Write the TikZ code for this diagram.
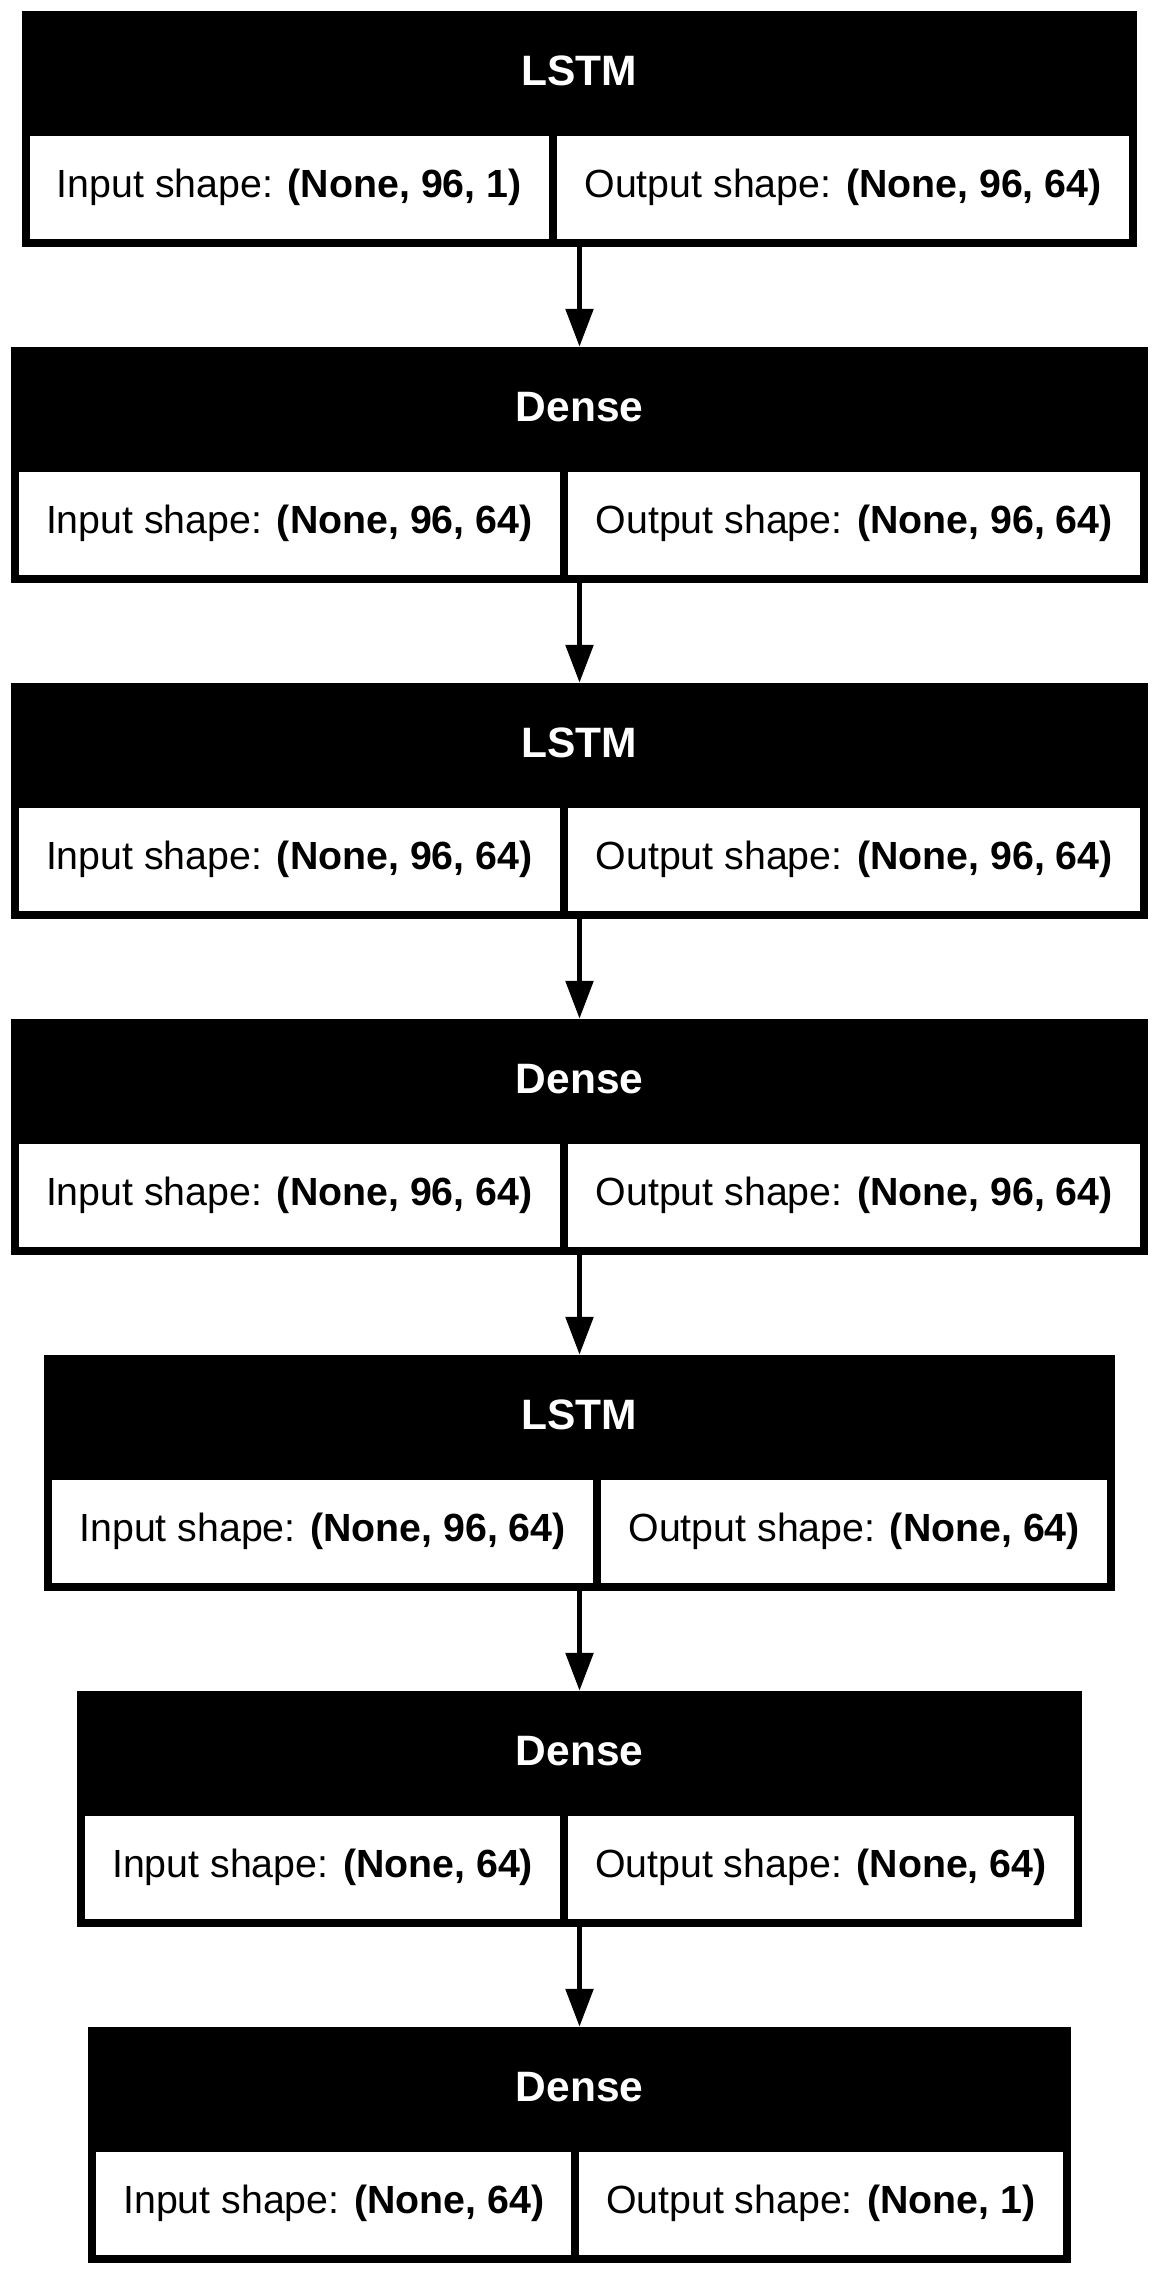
\documentclass[tikz,border=0pt]{standalone}
\usepackage{fontspec}
\setmainfont{Liberation Sans}
\usetikzlibrary{arrows.meta}

\begin{document}
\begin{tikzpicture}[x=1pt, y=-1pt,
        layer/.style = {fill=black, inner sep=0, minimum height=236pt},
        head/.style = {text=white, inner sep=0, font=\fontsize{42.5}{50}\selectfont\bfseries},
        cell/.style = {fill=white, inner sep=0, minimum height=103pt, font=\fontsize{39.3}{47}\selectfont},
        ar/.style = {line width=5.5pt, -{Triangle[length=38pt, width=27pt]}}]
        \useasboundingbox (0,0) rectangle (1158,2275);

        \node[layer, minimum width=1115.6pt] (l1) at (579.5,129) {};
        \node[head] (l1h) at (579.5,71) {LSTM};
        \node[cell, minimum width=519.1pt] (l1in) at (289.25,187.5) {Input shape: \textbf{(None, 96, 1)}};
        \node[cell, minimum width=572.5pt] (l1out) at (843.05,187.5) {Output shape: \textbf{(None, 96, 64)}};

        \node[layer, minimum width=1137.9pt] (l2) at (579.5,465) {};
        \node[head] (l2h) at (579.5,407) {Dense};
        \node[cell, minimum width=541.4pt] (l2in) at (289.25,523.5) {Input shape: \textbf{(None, 96, 64)}};
        \node[cell, minimum width=572.5pt] (l2out) at (854.2,523.5) {Output shape: \textbf{(None, 96, 64)}};

        \node[layer, minimum width=1137.9pt] (l3) at (579.5,801) {};
        \node[head] (l3h) at (579.5,743) {LSTM};
        \node[cell, minimum width=541.4pt] (l3in) at (289.25,859.5) {Input shape: \textbf{(None, 96, 64)}};
        \node[cell, minimum width=572.5pt] (l3out) at (854.2,859.5) {Output shape: \textbf{(None, 96, 64)}};

        \node[layer, minimum width=1137.9pt] (l4) at (579.5,1137) {};
        \node[head] (l4h) at (579.5,1079) {Dense};
        \node[cell, minimum width=541.4pt] (l4in) at (289.25,1195.5) {Input shape: \textbf{(None, 96, 64)}};
        \node[cell, minimum width=572.5pt] (l4out) at (854.2,1195.5) {Output shape: \textbf{(None, 96, 64)}};

        \node[layer, minimum width=1071.2pt] (l5) at (579.5,1473) {};
        \node[head] (l5h) at (579.5,1415) {LSTM};
        \node[cell, minimum width=541.4pt] (l5in) at (322.6,1531.5) {Input shape: \textbf{(None, 96, 64)}};
        \node[cell, minimum width=505.8pt] (l5out) at (854.2,1531.5) {Output shape: \textbf{(None, 64)}};

        \node[layer, minimum width=1004.4pt] (l6) at (579.5,1809) {};
        \node[head] (l6h) at (579.5,1751) {Dense};
        \node[cell, minimum width=474.6pt] (l6in) at (322.6,1867.5) {Input shape: \textbf{(None, 64)}};
        \node[cell, minimum width=505.8pt] (l6out) at (820.8,1867.5) {Output shape: \textbf{(None, 64)}};

        \node[layer, minimum width=982.1pt] (l7) at (579.5,2145) {};
        \node[head] (l7h) at (579.5,2087) {Dense};
        \node[cell, minimum width=474.6pt] (l7in) at (333.75,2203.5) {Input shape: \textbf{(None, 64)}};
        \node[cell, minimum width=483.5pt] (l7out) at (820.8,2203.5) {Output shape: \textbf{(None, 1)}};

        \draw[ar] (l1.south) -- (l2.north);
        \draw[ar] (l2.south) -- (l3.north);
        \draw[ar] (l3.south) -- (l4.north);
        \draw[ar] (l4.south) -- (l5.north);
        \draw[ar] (l5.south) -- (l6.north);
        \draw[ar] (l6.south) -- (l7.north);
    \end{tikzpicture}
\end{document}
